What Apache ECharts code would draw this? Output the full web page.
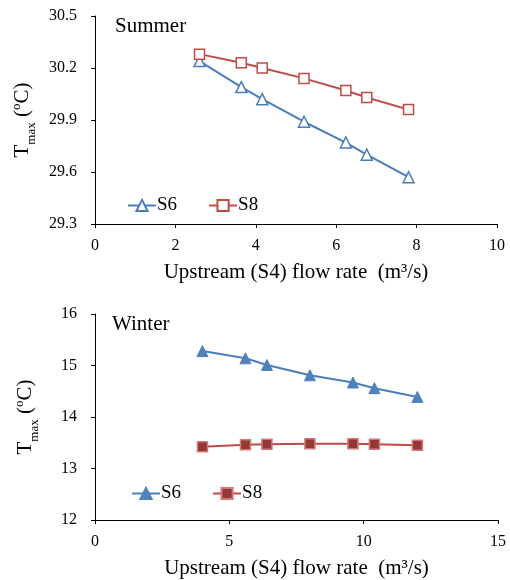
<!DOCTYPE html>
<html><head><meta charset="utf-8">
<script src="https://cdn.jsdelivr.net/npm/echarts@6/dist/echarts.min.js"></script>
<style>html,body{margin:0;padding:0;background:#fff}#c{width:510px;height:580px}</style>
</head><body><div id="c"></div>
<script>
// Summer data
const summerFlow = [2.6, 3.64, 4.16, 5.2, 6.24, 6.76, 7.8];
const summerS6 = [30.24, 30.09, 30.02, 29.89, 29.77, 29.70, 29.57];
const summerS8 = [30.28, 30.23, 30.20, 30.14, 30.07, 30.03, 29.96];
// Winter data
const winterFlow = [4.0, 5.6, 6.4, 8.0, 9.6, 10.4, 12.0];
const winterS6 = [15.28, 15.14, 15.01, 14.81, 14.67, 14.56, 14.39];
const winterS8 = [13.42, 13.46, 13.47, 13.48, 13.48, 13.47, 13.45];

const pair = (xs, ys) => xs.map((x, i) => [x, ys[i]]);
const FONT = '"Liberation Serif","Times New Roman",serif';
const blue = '#4A7EBB', red = '#BE4B48';

const axisCommon = {
  axisLine: {lineStyle: {color: '#000', width: 1}},
  axisTick: {show: true, inside: false, length: 4, lineStyle: {color: '#000'}},
  splitLine: {show: false},
  axisLabel: {color: '#000', fontFamily: FONT, fontSize: 16}
};
const xName = 'Upstream (S4) flow rate  (m\u00B3/s)';
const yNameRich = {
  t: {fontFamily: FONT, fontSize: 21, color: '#000', lineHeight: 24},
  sub: {fontFamily: FONT, fontSize: 13, color: '#000', verticalAlign: 'bottom', lineHeight: 24, padding: [0,0,-4,0]},
  sup: {fontFamily: FONT, fontSize: 13, color: '#000', verticalAlign: 'top', lineHeight: 24}
};
const yName = '{t|T}{sub|max}{t| (}{sup|o}{t|C)}';

function xAxis(gi, max, interval) {
  return Object.assign({}, axisCommon, {
    type: 'value', gridIndex: gi, min: 0, max: max, interval: interval,
    axisLabel: Object.assign({}, axisCommon.axisLabel, {margin: 14}),
    name: xName, nameLocation: 'middle', nameGap: 38,
    nameTextStyle: {fontFamily: FONT, fontSize: 21, color: '#000'}
  });
}
function yAxis(gi, min, max, interval, dec) {
  return Object.assign({}, axisCommon, {
    type: 'value', gridIndex: gi, min: min, max: max, interval: interval,
    axisLabel: Object.assign({}, axisCommon.axisLabel, {formatter: v => v.toFixed(dec), margin: 18}),
    name: yName, nameLocation: 'middle', nameGap: 58, nameRotate: 90,
    nameTextStyle: {rich: yNameRich}
  });
}

const chart = echarts.init(document.getElementById('c'), null, {renderer: 'canvas'});
chart.setOption({
  animation: false,
  backgroundColor: '#fff',
  grid: [
    {left: 95, top: 16, width: 402, height: 208},
    {left: 95, top: 314, width: 403, height: 208}
  ],
  title: [
    {text: 'Summer', left: 110, top: 11, textStyle: {fontFamily: FONT, fontSize: 21, fontWeight: 'normal', color: '#000'}},
    {text: 'Winter', left: 107, top: 309, textStyle: {fontFamily: FONT, fontSize: 21, fontWeight: 'normal', color: '#000'}}
  ],
  legend: [
    {left: 122, top: 191, itemWidth: 28, itemHeight: 14, itemGap: 31,
     data: ['S6 summer', 'S8 summer'], formatter: n => n.split(' ')[0],
     textStyle: {fontFamily: FONT, fontSize: 19, color: '#000', padding: [0,0,0,-4]}},
    {left: 126, top: 479, itemWidth: 28, itemHeight: 14, itemGap: 31,
     data: ['S6 winter', 'S8 winter'], formatter: n => n.split(' ')[0],
     textStyle: {fontFamily: FONT, fontSize: 19, color: '#000', padding: [0,0,0,-4]}}
  ],
  xAxis: [xAxis(0, 10, 2), xAxis(1, 15, 5)],
  yAxis: [yAxis(0, 29.3, 30.5, 0.3, 1), yAxis(1, 12, 16, 1, 0)],
  series: [
    {name: 'S6 summer', type: 'line', xAxisIndex: 0, yAxisIndex: 0, data: pair(summerFlow, summerS6),
     symbol: 'triangle', symbolSize: 11, showAllSymbol: true,
     lineStyle: {color: blue, width: 2}, itemStyle: {color: '#fff', borderColor: blue, borderWidth: 1.5}},
    {name: 'S8 summer', type: 'line', xAxisIndex: 0, yAxisIndex: 0, data: pair(summerFlow, summerS8),
     symbol: 'rect', symbolSize: 10, showAllSymbol: true,
     lineStyle: {color: red, width: 2}, itemStyle: {color: '#fff', borderColor: red, borderWidth: 1.5}},
    {name: 'S6 winter', type: 'line', xAxisIndex: 1, yAxisIndex: 1, data: pair(winterFlow, winterS6),
     symbol: 'triangle', symbolSize: 11, showAllSymbol: true,
     lineStyle: {color: blue, width: 2}, itemStyle: {color: '#4F81BD', borderColor: '#4F81BD', borderWidth: 1}},
    {name: 'S8 winter', type: 'line', xAxisIndex: 1, yAxisIndex: 1, data: pair(winterFlow, winterS8),
     symbol: 'rect', symbolSize: 10, showAllSymbol: true,
     lineStyle: {color: red, width: 2}, itemStyle: {color: '#953735', borderColor: '#D07A78', borderWidth: 1.5}}
  ]
});
</script></body></html>
